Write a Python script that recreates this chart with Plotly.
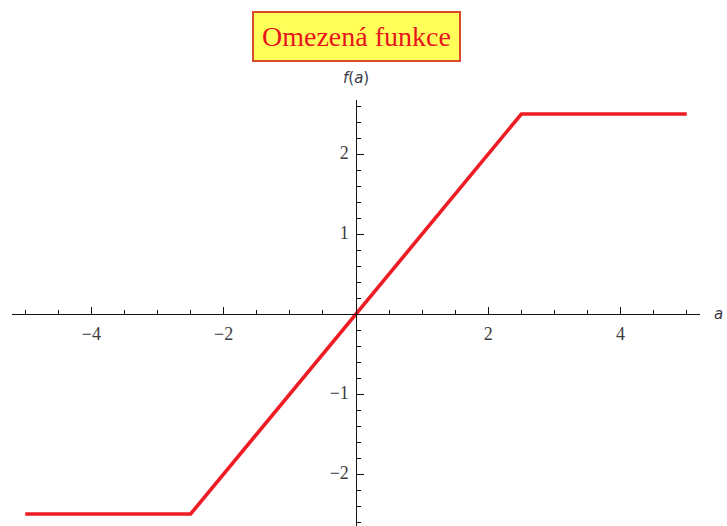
import plotly.graph_objects as go

# Bounded (clipped linear) function: breakpoints of the curve
a_values = [-5.0, -2.5, 2.5, 5.0]
f_values = [-2.5, -2.5, 2.5, 2.5]

x_tickvals = [-4, -2, 2, 4]
x_ticktext = ["\u22124", "\u22122", "2", "4"]
y_tickvals = [-2, -1, 1, 2]
y_ticktext = ["\u22122", "\u22121", "1", "2"]

title_text = "Omezená funkce"
x_label = "<i>a</i>"
y_label = "<i>f</i>(<i>a</i>)"

x_range = [-5.2, 5.2]
y_range = [-2.65, 2.675]

# axes cross at the origin
x_axis_pos = (0 - y_range[0]) / (y_range[1] - y_range[0])
y_axis_pos = (0 - x_range[0]) / (x_range[1] - x_range[0])

serif = "Liberation Serif"
label_font = dict(family=serif, size=18, color="#3c3c3c")

fig = go.Figure()
fig.add_trace(go.Scatter(
    x=a_values, y=f_values, mode="lines",
    line=dict(color="#ee1c24", width=3.6),
    hoverinfo="skip", showlegend=False,
))

# tick labels written at the tick values, in axis coordinates;
# the transparent markers only push the text away from the axis line
fig.add_trace(go.Scatter(
    x=x_tickvals, y=[0] * len(x_tickvals), mode="markers+text",
    marker=dict(size=18, opacity=0),
    text=x_ticktext, textposition="bottom center",
    textfont=label_font, hoverinfo="skip", showlegend=False,
))
fig.add_trace(go.Scatter(
    x=[0] * len(y_tickvals), y=y_tickvals, mode="text",
    text=[t + "\u2009\u2009" for t in y_ticktext], textposition="middle left",
    textfont=label_font, hoverinfo="skip", showlegend=False,
))

axis_common = dict(
    anchor="free", showgrid=False, zeroline=False,
    showline=True, linecolor="#111", linewidth=1.3,
    ticks="inside", ticklen=7, tickwidth=1.3, tickcolor="#111",
    showticklabels=False, fixedrange=True,
)

annotations = [
    dict(text=title_text, xref="paper", yref="paper",
         x=y_axis_pos, y=1, yshift=64, xanchor="center", yanchor="middle",
         showarrow=False,
         font=dict(family=serif, size=28, color="#e8141c"),
         bgcolor="#ffff5a", bordercolor="#d84a2a", borderwidth=2,
         borderpad=8),
    dict(text=y_label, xref="paper", yref="paper",
         x=y_axis_pos, y=1, yshift=22, xanchor="center", yanchor="middle",
         showarrow=False,
         font=dict(family="DejaVu Sans", size=15, color="#3a3a48")),
    dict(text=x_label, xref="paper", yref="paper",
         x=1, xshift=18, y=x_axis_pos, xanchor="center", yanchor="middle",
         showarrow=False,
         font=dict(family="DejaVu Sans", size=15, color="#3a3a48")),
]

fig.update_layout(
    template="none",
    width=727, height=526,
    margin=dict(l=12, r=27, t=100, b=0),
    paper_bgcolor="white", plot_bgcolor="white",
    xaxis=dict(
        range=x_range, position=x_axis_pos,
        tickvals=x_tickvals,
        minor=dict(dtick=0.5, tick0=0, ticks="inside", ticklen=4,
                   tickwidth=1.2, tickcolor="#111", showgrid=False),
        **axis_common,
    ),
    yaxis=dict(
        range=y_range, position=y_axis_pos,
        tickvals=y_tickvals,
        minor=dict(dtick=0.2, tick0=0, ticks="inside", ticklen=4,
                   tickwidth=1.2, tickcolor="#111", showgrid=False),
        **axis_common,
    ),
    annotations=annotations,
)

fig.write_html("out.html")
